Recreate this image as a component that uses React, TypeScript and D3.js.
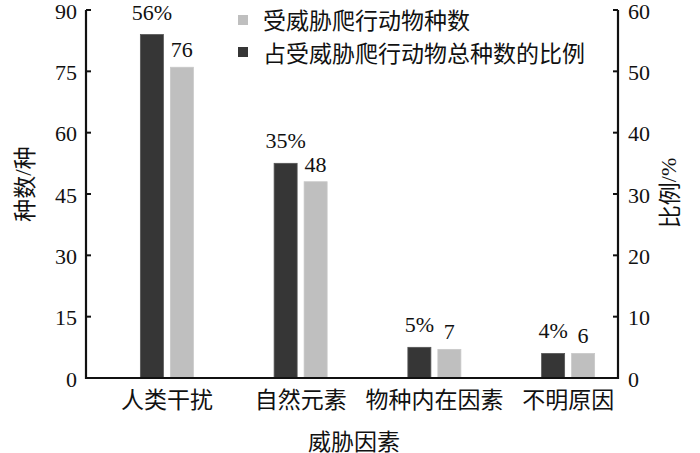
import React from 'react';
import * as d3 from 'd3';

const categories = ['人类干扰', '自然元素', '物种内在因素', '不明原因'];
const speciesCounts = [76, 48, 7, 6];
const percentages = [56, 35, 5, 4];
const leftTicks = [0, 15, 30, 45, 60, 75, 90];
const rightTicks = [0, 10, 20, 30, 40, 50, 60];
const seriesNames = ['受威胁爬行动物种数', '占受威胁爬行动物总种数的比例'];

const W = 700;
const H = 453;
const SERIF = 'Liberation Serif';
const SANS_CJK = 'Noto Sans CJK SC';
const DARK = '#363636';
const LIGHT = '#bfbfbf';
const INK = '#111';
const NUM = 22;
const CJK = 23;

export default function App() {
  const xL = 86;
  const xR = 618;
  const yTop = 10;
  const yBot = 378;

  const yLeft = d3.scaleLinear().domain([0, 90]).range([yBot, yTop]);
  const yRight = d3.scaleLinear().domain([0, 60]).range([yBot, yTop]);
  const x = d3.scaleBand<string>().domain(categories).range([100, 635]).paddingInner(0).paddingOuter(0);
  const inner = d3.scaleBand<string>().domain(['pct', 'count']).range([-26.5, 26.5]).paddingInner(0.233).paddingOuter(0);

  const center = (c: string) => (x(c) as number) + x.bandwidth() / 2;
  const num = { fontFamily: SERIF } as React.CSSProperties;
  const cjk = { fontFamily: SANS_CJK } as React.CSSProperties;

  return (
    <svg width={W} height={H} style={{ position: 'absolute', left: 0, top: 0, background: '#fff' }}>
      {/* bars */}
      {categories.map((c, i) => {
        const cx = center(c);
        const dx = cx + (inner('pct') as number);
        const lx = cx + (inner('count') as number);
        const bw = inner.bandwidth();
        return (
          <g key={c}>
            <rect x={dx} y={yRight(percentages[i])} width={bw} height={yBot - yRight(percentages[i])} fill={DARK} stroke="#555" strokeWidth={0.8} />
            <rect x={lx} y={yLeft(speciesCounts[i])} width={bw} height={yBot - yLeft(speciesCounts[i])} fill={LIGHT} stroke="#c8c8c8" strokeWidth={0.8} />
            <text x={dx + bw / 2} y={yRight(percentages[i]) - 15} textAnchor="middle" fontSize={NUM} fill={INK} style={num}>{percentages[i]}%</text>
            <text x={lx + bw / 2} y={yLeft(speciesCounts[i]) - 10} textAnchor="middle" fontSize={NUM} fill={INK} style={num}>{speciesCounts[i]}</text>
            <text x={cx} y={397.5} textAnchor="middle" dominantBaseline="central" fontSize={CJK} fill={INK} style={cjk}>{c}</text>
          </g>
        );
      })}

      {/* axes */}
      <path d={`M${xL},${yTop}V${yBot}H${xR}V${yTop}`} fill="none" stroke={INK} strokeWidth={2.2} />
      {leftTicks.map((t) => (
        <g key={'l' + t}>
          <line x1={xL} x2={xL + 5} y1={yLeft(t)} y2={yLeft(t)} stroke={INK} strokeWidth={2} />
          <text x={77} y={yLeft(t) + 1} textAnchor="end" dominantBaseline="central" fontSize={NUM} fill={INK} style={num}>{t}</text>
        </g>
      ))}
      {rightTicks.map((t) => (
        <g key={'r' + t}>
          <line x1={xR - 5} x2={xR} y1={yRight(t)} y2={yRight(t)} stroke={INK} strokeWidth={2} />
          <text x={628} y={yRight(t) + 1} textAnchor="start" dominantBaseline="central" fontSize={NUM} fill={INK} style={num}>{t}</text>
        </g>
      ))}

      {/* axis titles */}
      <text transform={`translate(23,184) rotate(-90)`} textAnchor="middle" dominantBaseline="central" fontSize={CJK} fill={INK} style={cjk}>
        种数<tspan style={num}>/</tspan>种
      </text>
      <text transform={`translate(668,193) rotate(-90)`} textAnchor="middle" dominantBaseline="central" fontSize={CJK} fill={INK} style={cjk}>
        比例<tspan style={num} fontSize={NUM}>/%</tspan>
      </text>
      <text x={354} y={440} textAnchor="middle" dominantBaseline="central" fontSize={CJK} fill={INK} style={cjk}>威胁因素</text>

      {/* legend */}
      <rect x={238} y={15} width={10} height={10} fill={LIGHT} />
      <text x={263} y={18.5} dominantBaseline="central" fontSize={CJK} fill={INK} style={cjk}>{seriesNames[0]}</text>
      <rect x={238} y={47} width={10} height={10} fill={DARK} />
      <text x={263} y={51.5} dominantBaseline="central" fontSize={CJK} fill={INK} style={cjk}>{seriesNames[1]}</text>
    </svg>
  );
}
